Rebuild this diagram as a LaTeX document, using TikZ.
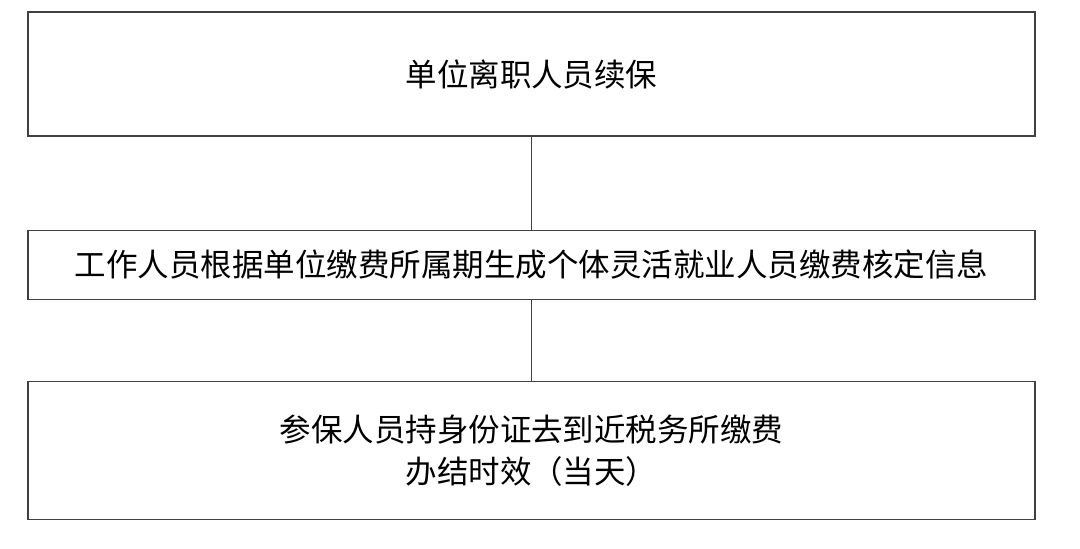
\documentclass[tikz,border=0pt]{standalone}
\usepackage{fontspec}
\setmainfont{Noto Sans CJK SC}
\usetikzlibrary{positioning}

\begin{document}
\begin{tikzpicture}
    \tikzstyle{stepbox} = [rectangle, minimum width=25.175cm, text centered, draw=black!75, line width=0.9pt, font=\fontsize{22.4}{30}\selectfont, align=center, inner sep=0pt]
    \tikzstyle{link} = [draw=black!75, line width=0.9pt]

    \useasboundingbox (0,0) rectangle (27,-13.7);

    \node (renew) [stepbox, minimum height=3.1cm] at (13.2875,-1.85) {单位离职人员续保};
    \node (verify) [stepbox, minimum height=1.725cm, below=2.325cm of renew] {工作人员根据单位缴费所属期生成个体灵活就业人员缴费核定信息};
    \node (pay) [stepbox, minimum height=3.45cm, below=2.025cm of verify] {参保人员持身份证去到近税务所缴费\\办结时效（当天）};

    \draw [link] (renew) -- (verify);
    \draw [link] (verify) -- (pay);
\end{tikzpicture}
\end{document}
